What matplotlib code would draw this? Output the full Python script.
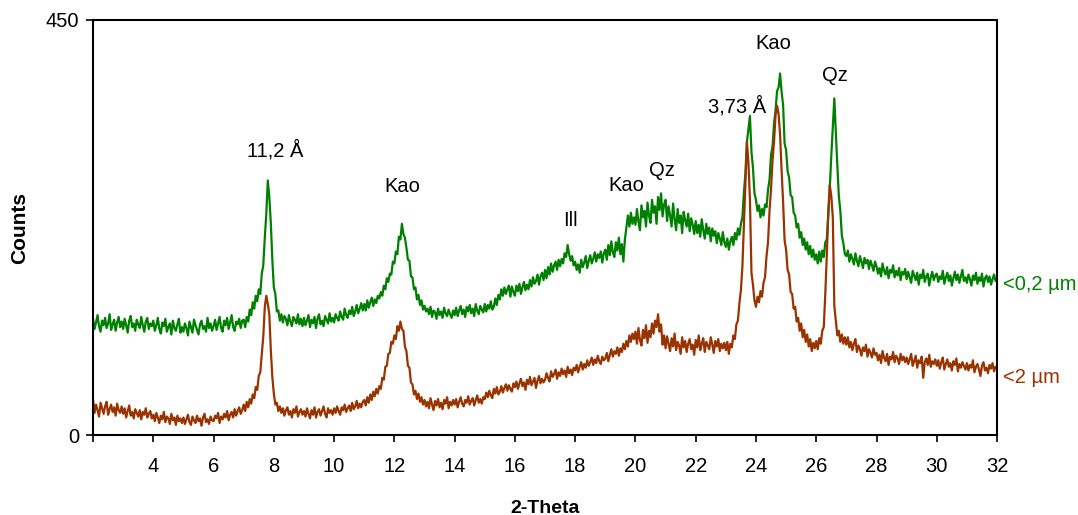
import numpy as np
import matplotlib
matplotlib.use("Agg")
import matplotlib.pyplot as plt
from matplotlib.ticker import FixedLocator, FixedFormatter

plt.rcParams['font.family'] = ['Liberation Sans', 'DejaVu Sans']

# Scan grid: 2-32 deg 2-theta, 0.05 deg step
two_theta = np.round(np.arange(2.0, 32.0001, 0.05), 2)

# Counts of the <0,2 um fraction, one row per degree
counts_fine = [
    126, 115, 122, 130, 118, 112, 124, 119, 127, 116, 121, 131, 114, 120, 125, 113, 122, 128, 117, 123,
    115, 126, 119, 111, 124, 129, 117, 121, 113, 125, 120, 116, 128, 119, 112, 123, 127, 115, 121, 118,
    124, 113, 119, 127, 115, 110, 122, 118, 126, 112, 117, 121, 109, 124, 116, 113, 120, 126, 111, 117,
    112, 121, 116, 108, 123, 117, 111, 125, 119, 114, 109, 120, 124, 115, 118, 112, 127, 116, 121, 113,
    118, 125, 114, 121, 128, 116, 112, 124, 119, 127, 115, 122, 130, 117, 113, 123, 120, 126, 116, 124,
    125, 117, 128, 123, 136, 130, 144, 137, 151, 145, 158, 153, 175, 184, 214, 240, 276, 258, 230, 190,
    160, 153, 134, 135, 124, 131, 122, 129, 126, 119, 130, 123, 118, 128, 125, 121, 131, 120, 126, 118,
    127, 119, 124, 130, 117, 125, 121, 128, 116, 126, 131, 120, 124, 118, 129, 125, 121, 132, 123, 127,
    122, 131, 127, 124, 134, 128, 125, 137, 130, 127, 135, 131, 139, 129, 134, 141, 132, 137, 143, 135,
    142, 135, 146, 138, 144, 149, 140, 147, 143, 151, 148, 155, 151, 162, 158, 170, 166, 175, 174, 188,
    186, 199, 196, 215, 212, 229, 218, 214, 203, 190, 189, 172, 171, 158, 160, 147, 152, 141, 146, 136,
    140, 134, 137, 131, 139, 128, 135, 133, 126, 137, 130, 134, 127, 138, 132, 129, 136, 131, 127, 135,
    130, 138, 129, 135, 140, 131, 136, 128, 139, 134, 141, 132, 137, 129, 142, 135, 131, 140, 136, 133,
    142, 134, 141, 137, 145, 136, 139, 148, 141, 152, 147, 158, 151, 160, 153, 158, 162, 150, 161, 155,
    151, 162, 156, 164, 153, 160, 166, 157, 163, 158, 168, 161, 171, 164, 167, 174, 163, 172, 176, 168,
    179, 170, 182, 174, 186, 177, 184, 188, 179, 190, 183, 191, 186, 197, 193, 206, 196, 189, 194, 184,
    188, 179, 185, 176, 190, 182, 187, 194, 181, 189, 195, 186, 191, 198, 188, 196, 192, 199, 187, 197,
    201, 190, 206, 195, 210, 198, 193, 209, 200, 214, 196, 207, 188, 212, 225, 238, 226, 241, 229, 236,
    228, 245, 231, 222, 249, 236, 243, 226, 252, 238, 230, 255, 241, 248, 229, 258, 244, 262, 237, 250,
    255, 232, 248, 238, 226, 251, 234, 222, 245, 230, 238, 219, 242, 233, 226, 240, 221, 235, 228, 218,
    232, 219, 228, 215, 234, 222, 213, 229, 218, 225, 210, 224, 216, 221, 208, 219, 213, 206, 220, 209,
    204, 213, 201, 210, 215, 206, 219, 212, 224, 217, 229, 236, 263, 284, 318, 332, 346, 307, 290, 262,
    255, 243, 249, 236, 245, 238, 250, 247, 266, 277, 304, 313, 338, 352, 373, 377, 392, 372, 358, 316,
    309, 286, 279, 260, 258, 241, 238, 225, 229, 214, 220, 206, 213, 201, 209, 196, 205, 193, 201, 190,
    196, 186, 199, 188, 200, 193, 209, 212, 238, 268, 303, 333, 365, 328, 292, 259, 243, 216, 208, 196,
    194, 200, 188, 196, 191, 185, 197, 189, 183, 194, 188, 181, 192, 186, 190, 180, 189, 184, 178, 188,
    183, 175, 181, 172, 186, 178, 174, 182, 170, 179, 176, 184, 171, 178, 173, 181, 168, 177, 174, 180,
    169, 177, 171, 165, 178, 173, 168, 176, 163, 174, 170, 179, 166, 172, 175, 162, 171, 177, 168, 173,
    175, 166, 172, 169, 178, 164, 171, 176, 167, 173, 162, 170, 177, 168, 174, 165, 172, 179, 167, 171,
    165, 174, 169, 162, 173, 168, 176, 164, 171, 167, 175, 161, 170, 173, 166, 172, 163, 169, 174, 167,
    168,
]

# Counts of the <2 um fraction, one row per degree
counts_coarse = [
    38, 24, 33, 27, 20, 35, 29, 23, 31, 36, 22, 28, 33, 25, 30, 21, 34, 27, 24, 31,
    23, 29, 19, 26, 32, 21, 25, 18, 28, 24, 20, 27, 17, 25, 22, 29, 19, 23, 26, 18,
    22, 15, 24, 19, 13, 21, 17, 25, 14, 20, 18, 12, 23, 16, 19, 11, 21, 15, 18, 13,
    19, 12, 17, 22, 14, 11, 20, 16, 13, 21, 15, 18, 10, 19, 23, 14, 17, 12, 20, 16,
    15, 21, 18, 24, 13, 20, 17, 23, 19, 26, 16, 22, 25, 19, 28, 21, 26, 30, 23, 27,
    33, 26, 36, 30, 39, 34, 44, 40, 52, 49, 64, 68, 88, 107, 139, 151, 142, 131, 92, 63,
    45, 33, 35, 26, 31, 24, 29, 21, 27, 30, 22, 26, 19, 28, 24, 31, 20, 25, 28, 22,
    26, 20, 29, 23, 18, 27, 22, 30, 19, 25, 28, 21, 26, 31, 23, 19, 29, 24, 27, 22,
    29, 24, 31, 26, 22, 30, 27, 33, 25, 29, 32, 26, 35, 28, 31, 37, 29, 34, 30, 36,
    38, 32, 41, 35, 44, 38, 47, 42, 50, 45, 53, 50, 62, 60, 74, 75, 88, 89, 101, 99,
    108, 104, 118, 113, 123, 115, 113, 96, 91, 75, 73, 57, 55, 44, 48, 39, 45, 36, 41, 33,
    38, 31, 36, 29, 40, 33, 27, 37, 32, 39, 30, 35, 28, 38, 34, 41, 29, 36, 32, 38,
    33, 39, 30, 36, 41, 34, 31, 38, 35, 42, 33, 37, 40, 32, 38, 43, 35, 39, 34, 41,
    39, 46, 41, 48, 43, 40, 50, 45, 52, 44, 47, 53, 46, 51, 55, 48, 54, 50, 47, 56,
    52, 58, 50, 56, 61, 53, 57, 49, 60, 55, 63, 54, 58, 62, 51, 59, 64, 56, 61, 57,
    60, 67, 62, 58, 69, 63, 66, 71, 61, 68, 64, 72, 66, 70, 63, 74, 67, 71, 65, 73,
    70, 76, 68, 74, 79, 71, 77, 73, 81, 75, 79, 84, 76, 82, 78, 86, 80, 77, 85, 81,
    83, 89, 80, 87, 93, 85, 91, 88, 95, 86, 94, 90, 99, 93, 102, 96, 108, 101, 110, 104,
    112, 99, 116, 103, 97, 114, 105, 119, 100, 113, 106, 121, 110, 124, 117, 131, 112, 120, 98, 108,
    94, 107, 99, 91, 105, 96, 110, 92, 101, 97, 88, 106, 95, 102, 90, 99, 104, 93, 98, 87,
    103, 95, 108, 92, 99, 105, 90, 101, 97, 93, 106, 98, 89, 102, 96, 104, 91, 99, 94, 100,
    92, 101, 88, 99, 95, 108, 104, 120, 124, 143, 157, 183, 227, 272, 318, 296, 255, 176, 163, 146,
    139, 150, 144, 156, 150, 165, 171, 194, 209, 243, 267, 298, 318, 347, 357, 348, 326, 287, 253, 211,
    201, 179, 174, 155, 153, 137, 139, 123, 127, 113, 121, 106, 114, 101, 109, 96, 104, 91, 100, 94,
    102, 93, 105, 99, 113, 117, 153, 194, 243, 271, 259, 236, 140, 124, 108, 113, 101, 109, 99, 106,
    98, 106, 95, 101, 92, 99, 104, 90, 97, 93, 86, 95, 91, 98, 85, 93, 89, 84, 94, 87,
    89, 81, 87, 78, 91, 84, 80, 88, 76, 85, 82, 90, 79, 86, 83, 77, 88, 81, 85, 79,
    84, 77, 82, 88, 75, 80, 86, 73, 81, 78, 85, 62, 79, 83, 76, 87, 74, 80, 77, 82,
    75, 81, 72, 79, 84, 71, 77, 82, 74, 78, 70, 80, 76, 83, 69, 77, 73, 79, 75, 71,
    78, 70, 76, 73, 81, 68, 74, 77, 71, 64, 75, 79, 70, 73, 67, 76, 72, 78, 69, 74,
    73,
]

series_labels = ["<0,2 µm", "<2 µm"]
series_colors = ["#008000", "#993300"]

# Peak labels: (text, 2-theta, counts)
peak_labels = [
    ("11,2 Å", 8.04, 309),
    ("Kao", 12.25, 269),
    ("Ill", 17.83, 233),
    ("Kao", 19.71, 271),
    ("Qz", 20.87, 287),
    ("3,73 Å", 23.36, 356),
    ("Kao", 24.57, 425),
    ("Qz", 26.63, 390),
]

x_ticks = list(range(2, 33, 2))
x_tick_labels = [""] + [str(t) for t in x_ticks[1:]]
y_ticks = [0, 450]

fig = plt.figure(figsize=(10.78, 5.15), dpi=100)
ax = fig.add_axes([0.0863, 0.1553, 0.8386, 0.8059])

ax.plot(two_theta, counts_fine, color=series_colors[0], lw=1.6)
ax.plot(two_theta, counts_coarse, color=series_colors[1], lw=1.6)

ax.set_xlim(2, 32)
ax.set_ylim(0, 450)
ax.xaxis.set_major_locator(FixedLocator(x_ticks))
ax.xaxis.set_major_formatter(FixedFormatter(x_tick_labels))
ax.set_yticks(y_ticks)
ax.tick_params(axis='both', direction='out', length=5, width=1.2,
               labelsize=14.5, colors='black')
ax.tick_params(axis='x', pad=11)
ax.tick_params(axis='y', pad=5)

for side in ['left', 'right', 'top', 'bottom']:
    ax.spines[side].set_linewidth(1.5)
    ax.spines[side].set_color('black')

ax.set_xlabel("2-Theta", fontsize=14, fontweight='bold', labelpad=17)
ax.set_ylabel("Counts", fontsize=15, fontweight='bold', labelpad=12)

for text, xp, yp in peak_labels:
    ax.text(xp, yp, text, ha='center', va='center', fontsize=14.5, color='black')

# Series names at the right end of each trace
ax.text(32.2, 163, series_labels[0], color=series_colors[0], fontsize=14.5,
        ha='left', va='center', clip_on=False)
ax.text(32.2, 62, series_labels[1], color=series_colors[1], fontsize=14.5,
        ha='left', va='center', clip_on=False)

fig.savefig("out.png", dpi=100)
